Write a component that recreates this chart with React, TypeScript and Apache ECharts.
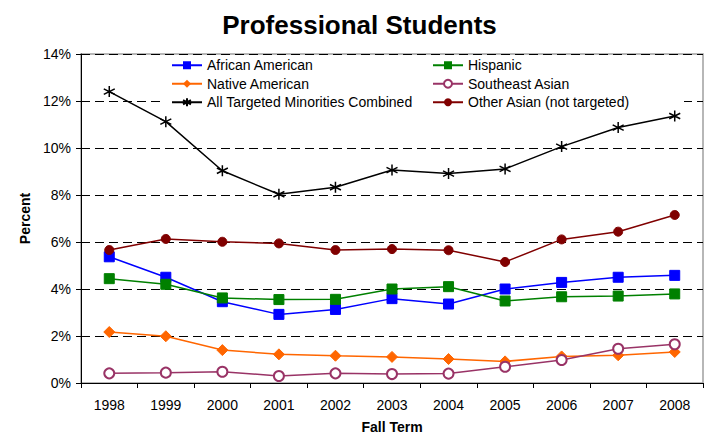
import React, { useEffect, useRef } from "react";
import * as echarts from "echarts";

const years = ["1998", "1999", "2000", "2001", "2002", "2003", "2004", "2005", "2006", "2007", "2008"];
const africanAmerican = [5.37, 4.5, 3.46, 2.92, 3.13, 3.59, 3.36, 4.0, 4.28, 4.5, 4.58];
const hispanic = [4.44, 4.2, 3.62, 3.55, 3.56, 4.0, 4.1, 3.49, 3.67, 3.7, 3.79];
const nativeAmerican = [2.17, 1.99, 1.4, 1.22, 1.16, 1.11, 1.02, 0.92, 1.13, 1.18, 1.32];
const southeastAsian = [0.41, 0.44, 0.48, 0.3, 0.41, 0.38, 0.4, 0.69, 0.98, 1.46, 1.65];
const allTargeted = [12.4, 11.12, 9.03, 8.03, 8.33, 9.06, 8.91, 9.11, 10.06, 10.87, 11.36];
const otherAsian = [5.66, 6.13, 6.01, 5.94, 5.66, 5.7, 5.65, 5.15, 6.11, 6.44, 7.15];

const FONT = "'Liberation Sans', Arial, sans-serif";
const STAR = "path://M5,0 L5,10 M0.7,2.5 L9.3,7.5 M0.7,7.5 L9.3,2.5";

export default function App() {
  const ref = useRef<HTMLDivElement>(null);
  useEffect(() => {
    if (!ref.current) return;
    const chart = echarts.init(ref.current, undefined, { renderer: "svg" });
    const mk = (name: string, data: number[], color: string, symbol: string, size: number, itemExtra: any = {}) => ({
      name,
      type: "line",
      data,
      symbol,
      symbolSize: size,
      lineStyle: { color, width: 1.5 },
      itemStyle: { color, borderColor: color, ...itemExtra },
    });
    chart.setOption({
      animation: false,
      backgroundColor: "#fff",
      title: {
        text: "Professional Students",
        left: "center",
        top: 7,
        textStyle: { fontFamily: FONT, fontSize: 26, fontWeight: "bold", color: "#000" },
      },
      graphic: [
        {
          type: "rect",
          z: 1,
          silent: true,
          shape: { x: 163, y: 57, width: 521, height: 53 },
          style: { fill: "#fff" },
        },
      ],
      legend: {
        left: 171,
        top: 56,
        width: 530,
        padding: 0,
        itemGap: 0,
        itemWidth: 30,
        itemHeight: 10,
        data: [
          "African American",
          "Hispanic",
          "Native American",
          "Southeast Asian",
          "All Targeted Minorities Combined",
          "Other Asian (not targeted)",
        ],
        textStyle: { fontFamily: FONT, fontSize: 14, color: "#000", width: 225, overflow: "truncate", lineHeight: 18.5 },
      },
      grid: {
        left: 81,
        right: 16,
        top: 54,
        bottom: 50,
        show: true,
        borderColor: "#a0a0a0",
        borderWidth: 1.5,
        containLabel: false,
        outerBoundsMode: "none",
      },
      xAxis: {
        type: "category",
        data: years,
        boundaryGap: true,
        name: "Fall Term",
        nameLocation: "middle",
        nameGap: 36,
        nameTextStyle: { fontFamily: FONT, fontSize: 14, fontWeight: "bold", color: "#000", lineHeight: 15 },
        axisLine: { lineStyle: { color: "#000", width: 1 } },
        axisTick: { show: true, length: 5, lineStyle: { color: "#000" } },
        axisLabel: { fontFamily: FONT, fontSize: 14, color: "#000", margin: 15 },
      },
      yAxis: {
        type: "value",
        min: 0,
        max: 14,
        interval: 2,
        name: "Percent",
        nameLocation: "middle",
        nameGap: 48,
        nameTextStyle: { fontFamily: FONT, fontSize: 14, fontWeight: "bold", color: "#000" },
        axisLine: { show: true, lineStyle: { color: "#000", width: 1 } },
        axisTick: { show: true, length: 5, lineStyle: { color: "#000" } },
        axisLabel: { fontFamily: FONT, fontSize: 14, color: "#000", margin: 10, formatter: "{value}%" },
        splitLine: {
          show: true,
          lineStyle: { color: "#000", type: [9, 5], width: 1 },
        },
      },
      series: [
        mk("African American", africanAmerican, "#0000ff", "rect", 10),
        mk("Hispanic", hispanic, "#008000", "rect", 10),
        mk("Native American", nativeAmerican, "#ff6600", "diamond", 11),
        mk("Southeast Asian", southeastAsian, "#993366", "emptyCircle", 10, { borderWidth: 1.5 }),
        mk("All Targeted Minorities Combined", allTargeted, "#000000", STAR, 11, { color: "none", borderWidth: 1.5 }),
        mk("Other Asian (not targeted)", otherAsian, "#800000", "circle", 9),
      ],
    });
    return () => chart.dispose();
  }, []);
  return <div ref={ref} style={{ width: 719, height: 433, position: "absolute", left: 0, top: 0 }} />;
}
